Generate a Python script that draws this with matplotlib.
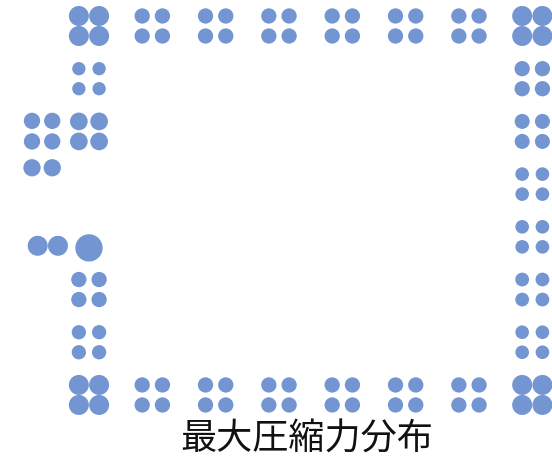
import matplotlib
matplotlib.use("Agg")
import matplotlib.pyplot as plt
import numpy as np

# ---- data ----
title = "最大圧縮力分布"

# 2x2 column groups: grid column, grid row (y up), bubble value
group_x = [0, 1, 2, 3, 4, 5, 6, 7,
           0, 1, 2, 3, 4, 5, 6, 7,
           0, 0, 0, 0,
           7, 7, 7, 7, 7, 7]
group_y = [7, 7, 7, 7, 7, 7, 7, 7,
           0, 0, 0, 0, 0, 0, 0, 0,
           6, 5, 2, 1,
           6, 5, 4, 3, 2, 1]
group_val = [400, 234, 234, 234, 234, 234, 234, 400,
             400, 234, 234, 234, 234, 234, 234, 400,
             177, 313, 234, 204,
             234, 225, 185, 185, 190, 185]

# offsets of the four bubbles inside a group
pair_dx = [-0.16, 0.16, -0.16, 0.16]
pair_dy = [0.19, 0.19, -0.19, -0.19]

# single bubbles outside the regular groups
extra_x = [-0.90, -0.58, -0.90, -0.58, -0.90, -0.58, -0.81, -0.49, 0.0]
extra_y = [5.20, 5.20, 4.81, 4.81, 4.31, 4.31, 2.83, 2.83, 2.79]
extra_val = [266, 266, 266, 266, 299, 299, 400, 400, 745]

# ---- build point lists ----
xs, ys, vs = [], [], []
for gx, gy, gv in zip(group_x, group_y, group_val):
    for dx, dy in zip(pair_dx, pair_dy):
        xs.append(gx + dx)
        ys.append(gy + dy)
        vs.append(gv)
xs += extra_x
ys += extra_y
vs += extra_val

W, H, DPI = 552, 461, 100
fig = plt.figure(figsize=(W / DPI, H / DPI), dpi=DPI)
ax = fig.add_axes([0, 0, 1, 1])
ax.set_xlim(-1.405, 7.311)
ax.set_ylim(-1.253, 7.493)
ax.axis("off")

size_scale = (72.0 / DPI) ** 2
ax.scatter(xs, ys, s=np.array(vs) * size_scale, color="#4472C4", alpha=0.75,
           linewidths=0)

fig.text(306.5 / W, (H - 440) / H, title, ha="center", va="center",
         fontsize=26, family=["Noto Sans CJK JP", "DejaVu Sans"], color="#111111")

fig.savefig("out.png", dpi=DPI)
